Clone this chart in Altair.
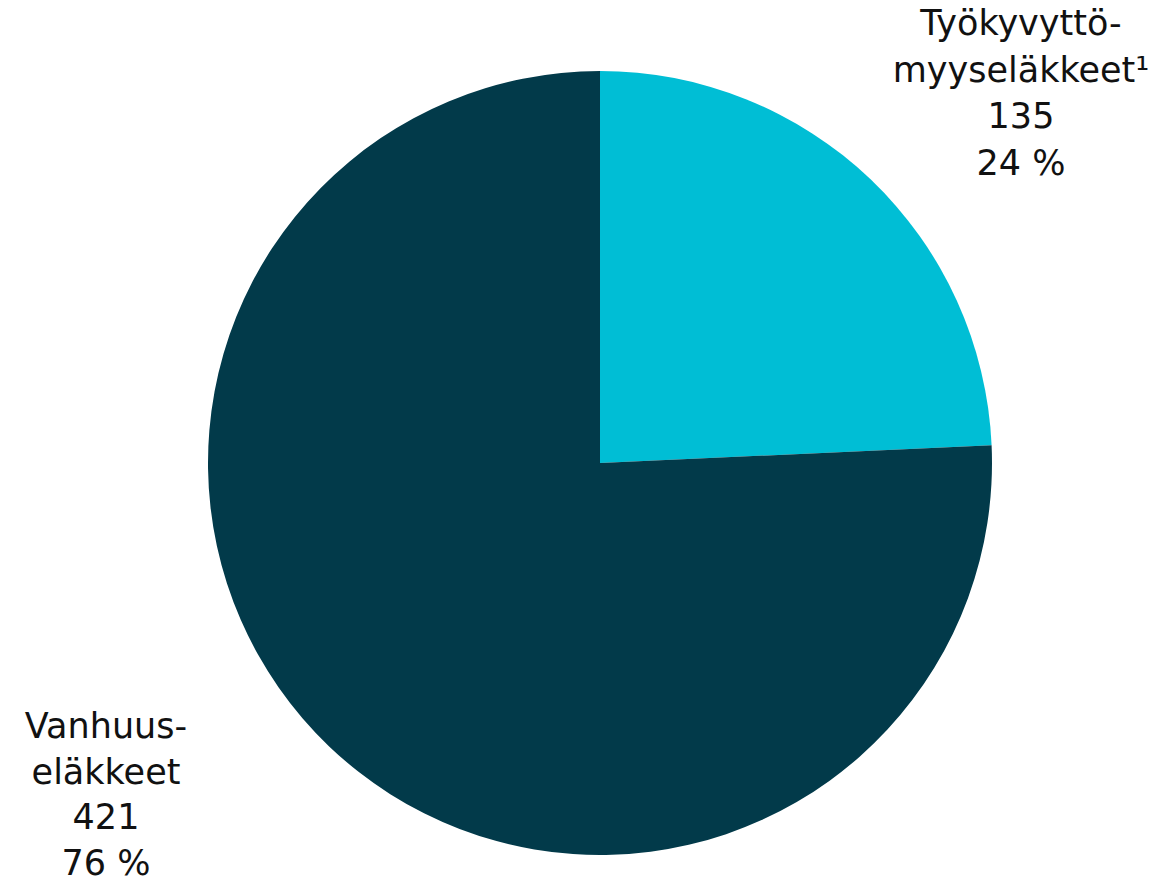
import altair as alt
import pandas as pd

categories = ["Työkyvyttömyyseläkkeet", "Vanhuuseläkkeet"]
values = [135, 421]
orders = [1, 2]
label_lines = [
    ["Työkyvyttö-", "myyseläkkeet¹", "135", "24 %"],
    ["Vanhuus-", "eläkkeet", "421", "76 %"],
]
colors = ["#00BED5", "#023A4A"]

df = pd.DataFrame({"category": categories, "value": values, "order": orders})

pie = alt.Chart(df).mark_arc(outerRadius=392, stroke=None).encode(
    theta=alt.Theta("value:Q", stack=True),
    order=alt.Order("order:Q"),
    color=alt.Color("category:N", scale=alt.Scale(domain=categories, range=colors), legend=None),
    x=alt.value(592),
    y=alt.value(455),
)

lab_df = pd.DataFrame({"label": ["\n".join(l) for l in label_lines]})

def label(i, x, y, lh):
    return alt.Chart(lab_df.iloc[[i]]).mark_text(
        font="DejaVu Sans", fontSize=35, lineBreak="\n", lineHeight=lh,
        align="center", baseline="alphabetic", color="#111111"
    ).encode(text="label:N", x=alt.value(x), y=alt.value(y))

chart = alt.layer(pie, label(0, 1013, 27, 46.5), label(1, 98, 730, 45.7)).properties(
    width=1149, height=873, autosize=alt.AutoSizeParams(type="none"), padding=0
).configure_view(stroke=None)

chart.save("out.html", embed_options={"renderer": "svg", "actions": False})
